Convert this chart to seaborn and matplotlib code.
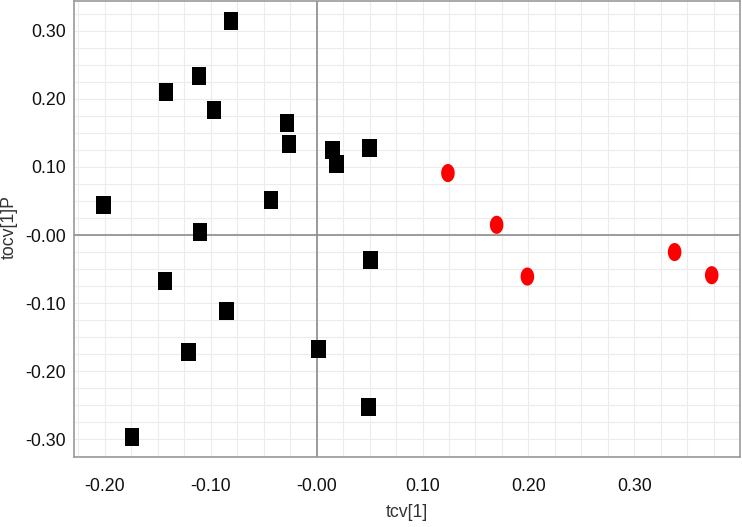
import numpy as np
import pandas as pd
import matplotlib
matplotlib.use("Agg")
import matplotlib.pyplot as plt
from matplotlib.path import Path
import seaborn as sns

# score values
sq_x = [-0.081, -0.111, -0.142, -0.097, -0.028, -0.026, 0.015, 0.019, 0.050,
        -0.110, -0.201, -0.043, -0.143, -0.085, -0.121, -0.174, 0.002, 0.049, 0.051]
sq_y = [0.314, 0.233, 0.210, 0.184, 0.164, 0.134, 0.125, 0.104, 0.128,
        0.004, 0.044, 0.051, -0.068, -0.111, -0.172, -0.296, -0.167, -0.253, -0.037]
red_x = [0.124, 0.170, 0.199, 0.338, 0.373]
red_y = [0.091, 0.015, -0.061, -0.025, -0.059]

x_ticks = [-0.20, -0.10, 0.00, 0.10, 0.20, 0.30]
x_labels = ["-0.20", "-0.10", "-0.00", "0.10", "0.20", "0.30"]
y_ticks = [-0.30, -0.20, -0.10, 0.00, 0.10, 0.20, 0.30]
y_labels = ["-0.30", "-0.20", "-0.10", "-0.00", "0.10", "0.20", "0.30"]

df = pd.DataFrame({
    "tcv": sq_x + red_x,
    "tocv": sq_y + red_y,
    "group": ["a"] * len(sq_x) + ["b"] * len(red_x),
})

# slightly tall rectangle and ellipse markers
rect = Path([(-0.8, -1), (0.8, -1), (0.8, 1), (-0.8, 1), (-0.8, -1)],
            [Path.MOVETO, Path.LINETO, Path.LINETO, Path.LINETO, Path.CLOSEPOLY])
t = np.linspace(0, 2 * np.pi, 40)
ell = Path(np.column_stack([0.75 * np.cos(t), np.sin(t)]))

sns.set_style("white")
plt.rcParams["font.family"] = ["Liberation Sans", "DejaVu Sans"]

fig = plt.figure(figsize=(7.42, 5.27), dpi=100)
ax = fig.add_axes([0.0997, 0.1323, 0.8976, 0.8657])

ax.axhline(0, color="#8c8c8c", lw=1.2, zorder=1)
ax.axvline(0, color="#8c8c8c", lw=1.2, zorder=1)

sns.scatterplot(data=df, x="tcv", y="tocv", hue="group", style="group",
                palette={"a": "black", "b": "#ff0000"},
                markers={"a": rect, "b": ell},
                s=170, linewidth=0, legend=False, ax=ax, zorder=3)

ax.set_xlim(-0.229, 0.3997)
ax.set_ylim(-0.3264, 0.3436)

# grid every 0.025, small ticks every 0.05, labels every 0.1
ax.set_xticks(np.arange(-0.225, 0.4, 0.025), minor=True)
ax.set_yticks(np.arange(-0.325, 0.35, 0.025), minor=True)
ax.grid(True, which="both", color="#ececec", lw=0.8, zorder=0)
ax.set_axisbelow(True)

xt = np.arange(-0.20, 0.36, 0.05)
ax.set_xticks(xt)
ax.set_xticklabels([x_labels[x_ticks.index(round(v, 2))] if round(v, 2) in x_ticks else "" for v in xt])
yt = np.arange(-0.30, 0.31, 0.05)
ax.set_yticks(yt)
ax.set_yticklabels([y_labels[y_ticks.index(round(v, 2))] if round(v, 2) in y_ticks else "" for v in yt])

ax.tick_params(which="major", direction="out", length=4, width=1, color="#9a9a9a",
               labelsize=12.8, labelcolor="#111111")
ax.tick_params(which="minor", length=0)
ax.tick_params(axis="x", pad=11)
ax.tick_params(axis="y", pad=1.5)

for s in ax.spines.values():
    s.set_color("#9a9a9a")
    s.set_linewidth(1.2)

ax.set_xlabel("tcv[1]", fontsize=12.8, color="#333333")
ax.set_ylabel("tocv[1]P", fontsize=12.8, color="#333333")
ax.xaxis.set_label_coords(0.5, -0.103)
ax.yaxis.set_label_coords(-0.084, 0.505)

fig.savefig("out.png", dpi=100)
